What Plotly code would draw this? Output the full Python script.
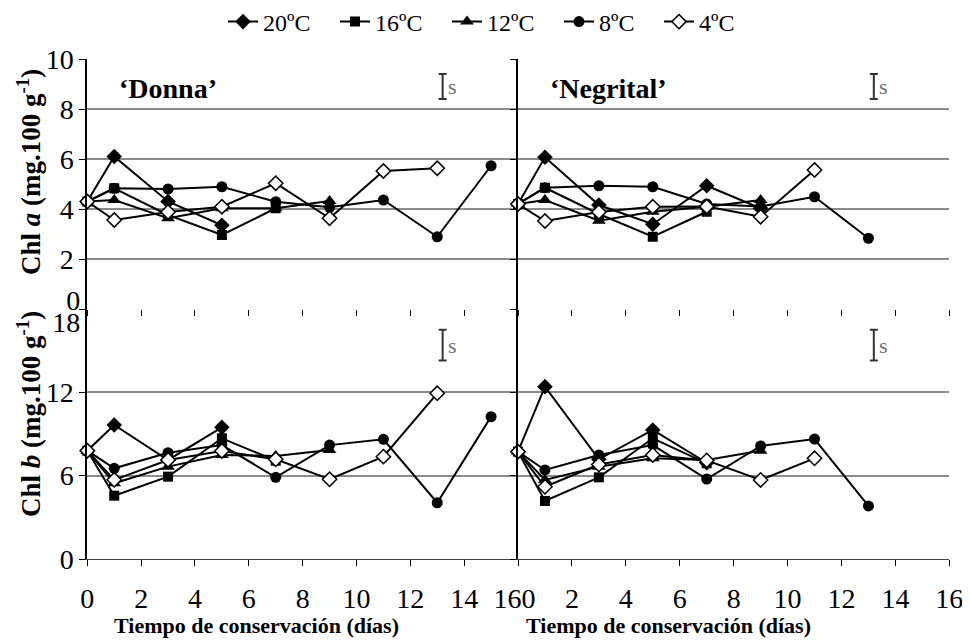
import plotly.graph_objects as go

# ---------------- data ----------------
days = [0, 1, 3, 5, 7, 9, 11, 13, 15]
temps = ["20ºC", "16ºC", "12ºC", "8ºC", "4ºC"]

# 'Donna' - Chl a
donna_a_20 = [4.3, 6.1, 4.3, 3.35, None, None, None, None, None]
donna_a_16 = [4.3, 4.83, 3.76, 2.96, 4.03, None, None, None, None]
donna_a_12 = [4.3, 4.36, 3.63, 4.03, 4.03, 4.32, None, None, None]
donna_a_8 = [4.3, 4.83, 4.8, 4.89, 4.29, 4.07, 4.36, 2.89, 5.73]
donna_a_4 = [4.3, 3.56, 3.88, 4.09, 5.03, 3.63, 5.52, 5.63, None]

# 'Negrital' - Chl a
negrital_a_20 = [4.2, 6.07, 4.16, 3.39, 4.93, 4.03, None, None, None]
negrital_a_16 = [4.2, 4.85, 3.8, 2.89, 3.89, None, None, None, None]
negrital_a_12 = [4.2, 4.36, 3.53, 3.89, 4.09, 4.36, None, None, None]
negrital_a_8 = [4.2, 4.85, 4.93, 4.89, 4.2, 4.1, 4.49, 2.83, None]
negrital_a_4 = [4.2, 3.52, 3.88, 4.09, 4.1, 3.69, 5.56, None, None]

# 'Donna' - Chl b
donna_b_20 = [7.8, 9.65, 7.13, 9.48, None, None, None, None, None]
donna_b_16 = [7.8, 4.56, 5.93, 8.69, 7.08, None, None, None, None]
donna_b_12 = [7.8, 5.45, 6.65, 7.49, 7.42, 7.85, None, None, None]
donna_b_8 = [7.8, 6.53, 7.65, 8.2, 5.88, 8.2, 8.62, 4.05, 10.25]
donna_b_4 = [7.8, 5.7, 7.13, 7.78, 7.18, 5.74, 7.37, 11.93, None]

# 'Negrital' - Chl b
negrital_b_20 = [7.73, 12.41, 7.18, 9.29, 6.93, None, None, None, None]
negrital_b_16 = [7.73, 4.18, 5.88, 8.69, 6.89, None, None, None, None]
negrital_b_12 = [7.73, 5.69, 6.65, 7.25, 7.13, 7.8, None, None, None]
negrital_b_8 = [7.73, 6.41, 7.49, 8.2, 5.76, 8.14, 8.64, 3.82, None]
negrital_b_4 = [7.73, 5.2, 6.8, 7.49, 7.1, 5.69, 7.25, None, None]

# standard-deviation indicator ("s")
s_day = [13.2]
s_a_center = [8.9]
s_a_half = [0.5]
s_b_center = [15.4]
s_b_half = [1.1]

x_ticks = [0, 2, 4, 6, 8, 10, 12, 14, 16]
ya_ticks = [0, 2, 4, 6, 8, 10]
yb_ticks = [0, 6, 12, 18]

# ---------------- styles ----------------
marker_styles = {
    "20ºC": dict(symbol="diamond", size=12, color="black"),
    "16ºC": dict(symbol="square", size=10, color="black"),
    "12ºC": dict(symbol="triangle-up", size=12, color="black"),
    "8ºC": dict(symbol="circle", size=11, color="black"),
    "4ºC": dict(symbol="diamond", size=11, color="white",
                line=dict(color="black", width=1.5)),
}
legend_widths = {"20ºC": 67, "16ºC": 67, "12ºC": 67, "8ºC": 55, "4ºC": 55}

panels = [
    ("x", "y", [donna_a_20, donna_a_16, donna_a_12, donna_a_8, donna_a_4], True),
    ("x2", "y2", [negrital_a_20, negrital_a_16, negrital_a_12, negrital_a_8, negrital_a_4], False),
    ("x3", "y3", [donna_b_20, donna_b_16, donna_b_12, donna_b_8, donna_b_4], False),
    ("x4", "y4", [negrital_b_20, negrital_b_16, negrital_b_12, negrital_b_8, negrital_b_4], False),
]

fig = go.Figure()
for xa, ya, series, show in panels:
    for name, vals in zip(temps, series):
        fig.add_trace(go.Scatter(
            x=days, y=vals, name=name, mode="lines+markers",
            line=dict(color="black", width=2),
            marker=marker_styles[name],
            xaxis=xa, yaxis=ya, showlegend=show, cliponaxis=False,
            legendwidth=legend_widths[name],
        ))

# error indicators
for xa, ya, c, h in [("x", "y", s_a_center, s_a_half), ("x2", "y2", s_a_center, s_a_half),
                     ("x3", "y3", s_b_center, s_b_half), ("x4", "y4", s_b_center, s_b_half)]:
    fig.add_trace(go.Scatter(
        x=s_day, y=c, mode="markers", marker=dict(size=1, opacity=0),
        error_y=dict(type="data", array=h, color="#333333", thickness=2, width=4),
        xaxis=xa, yaxis=ya, showlegend=False, hoverinfo="skip",
    ))

# ---------------- layout ----------------
# the page body has an 8px margin: size the figure so it fills the window
OFF = 8
W, H = 970 - OFF, 642 - OFF

def px(p):
    return (p - OFF) / W

def py(p):
    return 1 - (p - OFF) / H

xl = [px(87.3), px(518.0)]
xr = [px(518.0), px(949.3)]
yt = [py(309), py(59)]
yb = [py(559), py(309)]

grid = "#8c8c8c"
font_fam = "Liberation Serif"
TICK = 28

def xaxis(domain, anchor, labels, ticktext=None):
    d = dict(domain=domain, anchor=anchor, range=[0, 16], tickvals=x_ticks,
             showgrid=False, zeroline=False, ticks="outside", ticklen=6,
             tickcolor="black", tickwidth=1, showticklabels=labels,
             tickfont=dict(size=TICK, color="black"), automargin=False)
    if labels:
        d.update(showline=True, linecolor="#404040", linewidth=1, ticktext=ticktext,
                 ticklabelstandoff=8)
    else:
        d.update(showline=False)
    return d

def yaxis(domain, anchor, rng, tv, labels, ticktext=None):
    d = dict(domain=domain, anchor=anchor, range=rng, tickvals=tv,
             showgrid=True, gridcolor=grid, gridwidth=1.5, zeroline=False,
             showline=True, linecolor="black", linewidth=2,
             ticks="outside", ticklen=6, tickcolor="black", tickwidth=1,
             showticklabels=labels, tickfont=dict(size=TICK, color="black"),
             automargin=False)
    if ticktext is not None:
        d["ticktext"] = ticktext
    return d

nb = "\u00a0"
left_x_text = [str(v) for v in x_ticks[:-1]] + ["16" + nb * 3]
right_x_text = [nb * 3 + "0"] + [str(v) for v in x_ticks[1:]]

fig.update_layout(
    width=W, height=H,
    margin=dict(l=0, r=0, t=0, b=0, autoexpand=False),
    paper_bgcolor="white", plot_bgcolor="white",
    font=dict(family=font_fam, color="black", size=20),
    xaxis=xaxis(xl, "y", False),
    xaxis2=xaxis(xr, "y2", False),
    xaxis3=xaxis(xl, "y3", True, left_x_text),
    xaxis4=xaxis(xr, "y4", True, right_x_text),
    yaxis=yaxis(yt, "x", [0, 10], ya_ticks, True, [""] + [str(v) for v in ya_ticks[1:]]),
    yaxis2=yaxis(yt, "x2", [0, 10], ya_ticks, False),
    yaxis3=yaxis(yb, "x3", [0, 18], yb_ticks, True, [str(v) for v in yb_ticks[:-1]] + [""]),
    yaxis4=yaxis(yb, "x4", [0, 18], yb_ticks, False),
    # separate label axes for the stacked "0" / "18" labels
    yaxis5=dict(domain=yt, anchor="x", overlaying="y", range=[0, 10], tickvals=[0],
                ticktext=["0"], showgrid=False, zeroline=False, showline=False,
                ticks="", ticklabelshift=-9, tickfont=dict(size=TICK, color="black"),
                ticklabelstandoff=6, automargin=False),
    yaxis6=dict(domain=yb, anchor="x3", overlaying="y3", range=[0, 18], tickvals=[18],
                ticktext=["18"], showgrid=False, zeroline=False, showline=False,
                ticks="", ticklabelshift=13, tickfont=dict(size=TICK, color="black"),
                ticklabelstandoff=6, automargin=False),
    legend=dict(orientation="h", x=px(491), xanchor="center", y=py(22), yanchor="middle",
                font=dict(size=24, color="black"), bgcolor="rgba(0,0,0,0)",
                itemwidth=30, tracegroupgap=0),
)

# dummy traces to activate label axes
fig.add_trace(go.Scatter(x=[None], y=[None], xaxis="x", yaxis="y5", showlegend=False))
fig.add_trace(go.Scatter(x=[None], y=[None], xaxis="x3", yaxis="y6", showlegend=False))

ann = []
ann.append(dict(text="<b>‘Donna’</b>", x=1.1, y=8.8, xref="x", yref="y",
                xanchor="left", yanchor="middle", showarrow=False, font=dict(size=28)))
ann.append(dict(text="<b>‘Negrital’</b>", x=1.1, y=8.8, xref="x2", yref="y2",
                xanchor="left", yanchor="middle", showarrow=False, font=dict(size=28)))
for xr_, yr_, yv in [("x", "y", s_a_center[0]), ("x2", "y2", s_a_center[0]),
                     ("x3", "y3", s_b_center[0]), ("x4", "y4", s_b_center[0])]:
    ann.append(dict(text="s", x=s_day[0] + 0.12, y=yv, xref=xr_, yref=yr_,
                    xanchor="left", yanchor="middle", showarrow=False,
                    font=dict(size=22, color="#707070")))
for cx in [256, 668]:
    ann.append(dict(text="<b>Tiempo de conservación (días)</b>", x=px(cx), y=py(625),
                    xref="paper", yref="paper", xanchor="center", yanchor="middle",
                    showarrow=False, font=dict(size=22)))
ann.append(dict(text="<b>Chl <i>a</i> (mg.100 g<sup>-1</sup>)</b>", x=px(29), y=py(172),
                xref="paper", yref="paper", xanchor="center", yanchor="middle",
                textangle=-90, showarrow=False, font=dict(size=27)))
ann.append(dict(text="<b>Chl <i>b</i> (mg.100 g<sup>-1</sup>)</b>", x=px(29), y=py(414),
                xref="paper", yref="paper", xanchor="center", yanchor="middle",
                textangle=-90, showarrow=False, font=dict(size=27)))
fig.update_layout(annotations=ann)

fig.write_html("out.html")
